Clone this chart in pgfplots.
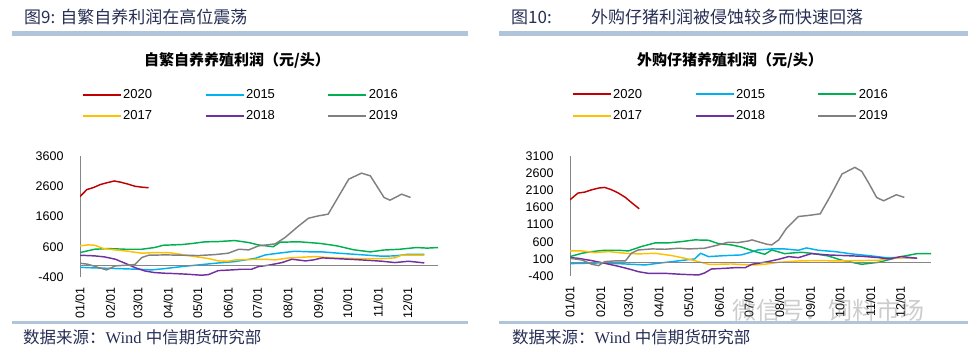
\documentclass[border=0pt]{standalone}
\usepackage{pgfplots}
\pgfplotsset{compat=1.18}
\usepackage{fontspec}
\setmainfont{Liberation Sans}
\newfontfamily\cjk{Noto Sans CJK SC}
\newfontfamily\serifw{Liberation Serif}
\definecolor{cA}{RGB}{192,0,0}
\definecolor{cB}{RGB}{0,176,240}
\definecolor{cC}{RGB}{0,176,80}
\definecolor{cD}{RGB}{255,192,0}
\definecolor{cE}{RGB}{112,48,160}
\definecolor{cF}{RGB}{128,128,128}
\definecolor{axgray}{RGB}{134,134,134}
\definecolor{barblue}{RGB}{176,196,218}
\definecolor{titlecol}{RGB}{38,46,84}
\pgfplotsset{
  mychart/.style={
    scale only axis,
    xmin=0, xmax=365,
    axis lines*=left,
    separate axis lines,
    x axis line style={draw=none},
    y axis line style={draw=axgray, line width=0.8bp},
    major tick length=0pt,
    xtick={0,31,59,90,120,151,181,212,243,273,304,334},
    xticklabels={01/01,02/01,03/01,04/01,05/01,06/01,07/01,08/01,09/01,10/01,11/01,12/01},
    /pgf/number format/assume math mode=true,
    /pgf/number format/1000 sep={},
    ticklabel style={font=\fontsize{12.5bp}{14bp}\selectfont, text=black},
    xticklabel style={rotate=90, anchor=east, xshift=-7bp},
    yticklabel style={xshift=-13bp},
    every axis plot/.append style={line width=1.45bp, no marks},
    legend columns=3,
    legend cell align=left,
    legend image code/.code={\draw[#1, line width=2bp] (0bp,0bp) -- (38bp,0bp);},
    legend style={draw=none, fill=none, inner sep=0pt, anchor=north west,
      font=\fontsize{13bp}{15bp}\selectfont,
      nodes={inner sep=1.5bp},
      row sep=8bp,
      /tikz/every even column/.append style={column sep=51bp}},
  }
}
\begin{document}
\begin{tikzpicture}
\path[use as bounding box] (0bp,0bp) rectangle (968bp,-355bp);
\fill[barblue] (12bp,-31bp) rectangle (468bp,-36bp);
\fill[barblue] (499bp,-31bp) rectangle (968bp,-36bp);
\fill[barblue] (12bp,-321bp) rectangle (468bp,-324bp);
\fill[barblue] (499bp,-321bp) rectangle (968bp,-324bp);
\node[anchor=west, inner sep=0, text=titlecol, font=\cjk\fontsize{17bp}{20bp}\selectfont] at (24bp,-17bp) {图9: 自繁自养利润在高位震荡};
\node[anchor=west, inner sep=0, text=titlecol, font=\cjk\fontsize{17bp}{20bp}\selectfont] at (511bp,-17bp) {图10:};
\node[anchor=west, inner sep=0, text=titlecol, font=\cjk\fontsize{17bp}{20bp}\selectfont] at (591bp,-17bp) {外购仔猪利润被侵蚀较多而快速回落};
\node[inner sep=0, font=\cjk\bfseries\fontsize{15bp}{18bp}\selectfont] at (237bp,-60bp) {自繁自养养殖利润（元/头）};
\node[inner sep=0, font=\cjk\bfseries\fontsize{15bp}{18bp}\selectfont] at (730bp,-60bp) {外购仔猪养殖利润（元/头）};
\node[anchor=west, inner sep=0, text=titlecol, font=\fontsize{16.5bp}{19bp}\selectfont] at (23bp,-337bp) {\cjk 数据来源：\serifw Wind \cjk 中信期货研究部};
\node[anchor=west, inner sep=0, text=titlecol, font=\fontsize{16.5bp}{19bp}\selectfont] at (512bp,-337bp) {\cjk 数据来源：\serifw Wind \cjk 中信期货研究部};

% ---------- left ----------
\begin{axis}[mychart, at={(80bp,-277bp)}, anchor=south west, width=358bp, height=121bp,
  ymin=-400, ymax=3600, ytick={-400,600,1600,2600,3600},
  legend style={at={(axis description cs:0.004,1.566)}}]
\addplot[cA] coordinates {(0,2260)(7,2490)(14,2560)(21,2660)(28,2720)(35,2775)(42,2730)(49,2670)(56,2600)(63,2570)(70,2550)};
\addplot[cB] coordinates {(0,-80)(15,-100)(36,-120)(56,-140)(73,-165)(87,-120)(104,-55)(121,0)(138,55)(158,110)(179,220)(189,330)(202,386)(219,452)(236,430)(247,430)(264,386)(284,342)(308,287)(321,298)(335,353)(351,353)};
\addplot[cC] coordinates {(0,408)(15,518)(29,540)(46,518)(63,518)(76,574)(85,650)(104,673)(114,706)(127,761)(141,772)(158,805)(172,739)(182,660)(197,600)(204,750)(223,765)(245,710)(262,630)(279,500)(296,430)(309,490)(326,518)(343,574)(354,555)(365,574)};
\addplot[cD] coordinates {(0,629)(8,662)(15,650)(24,540)(36,496)(49,452)(63,386)(76,408)(90,408)(104,342)(117,276)(131,210)(141,132)(151,121)(158,165)(172,176)(189,188)(199,165)(213,232)(240,276)(257,232)(281,210)(308,210)(321,232)(328,320)(351,320)};
\addplot[cE] coordinates {(0,320)(15,298)(25,265)(36,188)(46,55)(56,-88)(66,-199)(76,-254)(87,-276)(97,-287)(110,-309)(124,-342)(131,-320)(141,-188)(155,-165)(165,-143)(175,-143)(182,-55)(192,-11)(206,77)(216,188)(230,132)(238,165)(247,232)(260,210)(281,176)(298,143)(308,121)(321,77)(335,121)(351,66)};
\addplot[cF] coordinates {(0,55)(8,22)(19,-88)(27,-165)(36,-33)(46,-11)(56,11)(63,243)(70,320)(87,331)(104,320)(121,309)(138,342)(151,386)(162,518)(172,496)(182,629)(199,695)(209,904)(223,1290)(233,1544)(243,1621)(253,1677)(264,2283)(274,2835)(287,3033)(296,2945)(310,2228)(316,2140)(328,2338)(337,2228)};
\addplot[axgray, line width=0.8bp, forget plot] coordinates {(0,0)(365,0)};
\legend{2020,2015,2016,2017,2018,2019}
\end{axis}

% ---------- right ----------
\begin{axis}[mychart, at={(570bp,-276bp)}, anchor=south west, width=361bp, height=120bp,
  ymin=-400, ymax=3100, ytick={-400,100,600,1100,1600,2100,2600,3100},
  legend style={at={(axis description cs:0.004,1.571)}}]
\addplot[cA] coordinates {(0,1823)(8,2018)(15,2048)(22,2116)(29,2165)(35,2184)(42,2116)(49,2018)(56,1892)(62,1745)(70,1560)};
\addplot[cB] coordinates {(0,-39)(15,-29)(29,-20)(49,-39)(62,-58)(76,-78)(89,-29)(103,19)(120,78)(126,97)(132,263)(140,166)(157,195)(173,214)(180,270)(190,360)(204,390)(217,390)(231,351)(239,419)(251,351)(268,312)(285,244)(305,185)(319,136)(335,136)(351,117)};
\addplot[cC] coordinates {(0,166)(12,263)(22,312)(35,351)(49,351)(59,331)(72,458)(86,565)(99,565)(113,604)(126,653)(140,643)(150,546)(163,507)(173,448)(187,312)(197,234)(204,360)(217,253)(234,292)(244,263)(261,185)(275,58)(295,-58)(312,0)(335,166)(351,253)(366,253)};
\addplot[cD] coordinates {(0,331)(12,331)(25,283)(39,312)(56,263)(69,244)(86,263)(103,195)(116,117)(130,19)(140,-58)(150,-58)(163,-49)(177,-70)(187,-78)(197,-58)(211,0)(231,39)(251,49)(271,39)(292,49)(312,58)(325,117)(339,136)(351,117)};
\addplot[cE] coordinates {(0,136)(8,117)(22,49)(35,-29)(49,-117)(62,-214)(69,-273)(79,-322)(96,-322)(113,-351)(130,-370)(136,-312)(143,-195)(157,-175)(167,-156)(177,-160)(184,-58)(187,-45)(200,19)(211,88)(221,166)(231,136)(244,253)(261,214)(278,195)(295,175)(312,136)(322,97)(335,166)(351,117)};
\addplot[cF] coordinates {(0,117)(12,68)(22,-58)(29,-97)(35,19)(45,39)(56,39)(62,263)(69,360)(83,390)(96,380)(110,410)(120,390)(136,410)(150,507)(160,585)(170,575)(180,620)(184,653)(192,585)(199,527)(204,507)(211,653)(219,995)(231,1336)(241,1366)(253,1414)(263,1921)(275,2574)(288,2769)(295,2652)(302,2311)(310,1892)(317,1794)(330,1970)(338,1892)};
\addplot[axgray, line width=0.8bp, forget plot] coordinates {(0,0)(365,0)};
\legend{2020,2015,2016,2017,2018,2019}
\end{axis}
\node[anchor=west, inner sep=0, text=gray, opacity=0.4, font=\cjk\fontsize{24bp}{28bp}\selectfont] at (732bp,-310bp) {微信号：饲料市场};
\end{tikzpicture}
\end{document}
